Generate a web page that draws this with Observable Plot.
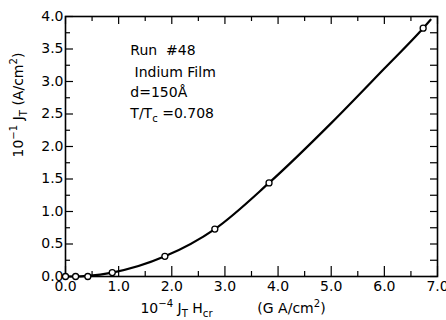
<!DOCTYPE html>
<html>
<head>
<meta charset="utf-8">
<script src="https://cdn.jsdelivr.net/npm/d3@7"></script>
<script src="https://cdn.jsdelivr.net/npm/@observablehq/plot@0.6"></script>
<style>
  html, body { margin: 0; padding: 0; background: #fff; }
</style>
</head>
<body>
<div id="chart"></div>
<script>
// Measured points (10^-4 J_T H_cr  vs  10^-1 J_T)
const pointX = [0.0, 0.19, 0.42, 0.88, 1.87, 2.81, 3.83, 6.73];
const pointY = [0.0, 0.0, 0.0, 0.06, 0.31, 0.73, 1.44, 3.82];

// Smooth curve drawn through the points
const curveX = [0.0, 0.19, 0.42, 0.88, 1.87, 2.81, 3.83, 5.0, 6.0, 6.73, 6.87];
const curveY = [0.0, 0.0, 0.01, 0.06, 0.31, 0.73, 1.44, 2.36, 3.2, 3.82, 3.95];

// Tick values
const xTickLabels = [0, 1, 2, 3, 4, 5, 6, 7];
const xMinorTicks = [0.5, 1.5, 2.5, 3.5, 4.5, 5.5, 6.5];
const yTickLabels = [0, 0.5, 1, 1.5, 2, 2.5, 3, 3.5, 4];
const yMinorTicks = [0.25, 0.75, 1.25, 1.75, 2.25, 2.75, 3.25, 3.75];
const yAllTicks = [0, 0.25, 0.5, 0.75, 1, 1.25, 1.5, 1.75, 2, 2.25, 2.5, 2.75, 3, 3.25, 3.5, 3.75, 4];

// Annotation text
const noteLines = ["Run  #48", "Indium Film", "d=150Å", "T/T_{c} =0.708"];
const noteX = [1.22, 1.30, 1.22, 1.22];
const noteY = [3.48, 3.14, 2.83, 2.51];

const yLabel = "10^{−1} J_{T} (A/cm^{2})";
const xLabel1 = "10^{−4} J_{T} H_{cr}";
const xLabel2 = "(G A/cm^{2})";

const W = 446, H = 320;
const mL = 65, mR = 9, mT = 16, mB = 44;
const iW = W - mL - mR, iH = H - mT - mB;

const points = pointX.map((x, i) => ({x, y: pointY[i]}));
const curve = curveX.map((x, i) => ({x, y: curveY[i]}));
const notes = noteLines.map((t, i) => ({t, x: noteX[i], y: noteY[i]}));

const chart = Plot.plot({
  width: W, height: H,
  marginLeft: mL, marginRight: mR, marginTop: mT, marginBottom: mB,
  x: {domain: [0, 7]},
  y: {domain: [0, 4]},
  style: {fontFamily: "DejaVu Sans", fontSize: "13.5px", color: "#000", background: "#fff"},
  marks: [
    Plot.frame({stroke: "#000", strokeWidth: 1.6}),
    // left inward ticks
    Plot.tickY(yTickLabels, {y: d => d, insetRight: iW - 8, stroke: "#000", strokeWidth: 1.2}),
    Plot.tickY(yMinorTicks, {y: d => d, insetRight: iW - 5, stroke: "#000", strokeWidth: 1.2}),
    // right inward ticks
    Plot.tickY(yAllTicks, {y: d => d, insetLeft: iW - 7, stroke: "#000", strokeWidth: 1.2}),
    // bottom inward ticks
    Plot.tickX(xTickLabels, {x: d => d, insetTop: iH - 10, stroke: "#000", strokeWidth: 1.2}),
    Plot.tickX(xMinorTicks, {x: d => d, insetTop: iH - 5, stroke: "#000", strokeWidth: 1.2}),
    // top inward ticks
    Plot.tickX(xTickLabels, {x: d => d, insetBottom: iH - 8, stroke: "#000", strokeWidth: 1.2}),
    Plot.tickX(xMinorTicks, {x: d => d, insetBottom: iH - 5, stroke: "#000", strokeWidth: 1.2}),
    Plot.axisY(yTickLabels, {tickSize: 0, tickPadding: 2, tickFormat: d => d.toFixed(1), label: null, fontSize: 14}),
    Plot.axisX(xTickLabels, {tickSize: 0, tickPadding: 5, tickFormat: d => d.toFixed(1), label: null, fontSize: 14}),
    Plot.line(curve, {x: "x", y: "y", curve: "monotone-x", stroke: "#000", strokeWidth: 2.2}),
    Plot.dot(points, {x: "x", y: "y", r: 3, fill: "#fff", stroke: "#000", strokeWidth: 1.3}),
    Plot.text(notes, {x: "x", y: "y", text: "t", textAnchor: "start", lineAnchor: "middle", fontSize: 14}),
    Plot.text([yLabel], {text: d => d, frameAnchor: "left", dx: -47, dy: 11, rotate: -90, fontSize: 14}),
    Plot.text([xLabel1], {text: d => d, frameAnchor: "bottom", dx: -75, dy: 32, lineAnchor: "middle", fontSize: 14}),
    Plot.text([xLabel2], {text: d => d, frameAnchor: "bottom", dx: 40, dy: 32, lineAnchor: "middle", fontSize: 14})
  ]
});

// Turn ^{..} and _{..} markup into real super/subscript tspans
function richify(el) {
  const s = el.textContent;
  if (!/[_^]\{/.test(s)) return;
  while (el.firstChild) el.removeChild(el.firstChild);
  const re = /([_^])\{([^}]*)\}/g;
  let last = 0, m, cur = 0;
  const add = (txt, off, small) => {
    const t = document.createElementNS("http://www.w3.org/2000/svg", "tspan");
    t.textContent = txt;
    if (off !== cur) t.setAttribute("dy", off - cur);
    cur = off;
    if (small) t.setAttribute("font-size", "0.72em");
    el.appendChild(t);
  };
  while ((m = re.exec(s))) {
    if (m.index > last) add(s.slice(last, m.index), 0, false);
    add(m[2], m[1] === "^" ? -6 : 4, true);
    last = re.lastIndex;
  }
  if (last < s.length) add(s.slice(last), 0, false);
}
d3.select(chart).selectAll("text").each(function() { richify(this); });

document.getElementById("chart").appendChild(chart);
</script>
</body>
</html>
